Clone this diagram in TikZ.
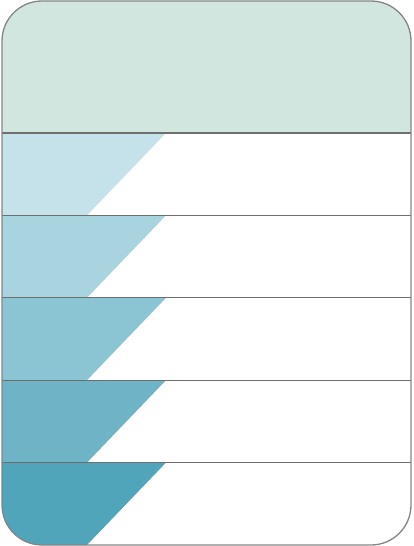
\documentclass[tikz,border=0pt]{standalone}
\usepackage{tikz}

\definecolor{headfill}{HTML}{D1E6DF}
\definecolor{rowA}{HTML}{C5E2EA}
\definecolor{rowB}{HTML}{A8D4DF}
\definecolor{rowC}{HTML}{8BC4D2}
\definecolor{rowD}{HTML}{6EB4C6}
\definecolor{rowE}{HTML}{51A5BA}
\definecolor{linegray}{HTML}{6E6E6E}
\definecolor{framegray}{HTML}{858585}

\begin{document}
\begin{tikzpicture}[
  x=1pt, y=-1pt,
  frame/.style={draw=framegray, line width=1.3pt, rounded corners=40pt},
  rowline/.style={draw=linegray, line width=1.2pt}
]
\useasboundingbox (0,0) rectangle (413,546);

\begin{scope}
\clip[rounded corners=40pt] (2,1) rectangle (411,545);
\fill[headfill] (0,0) rectangle (413,133);
\foreach \c [count=\i] in {rowA,rowB,rowC,rowD,rowE} {
  \pgfmathsetmacro\rowtop{133+82.4*(\i-1)}
  \fill[\c] (0,\rowtop) -- (166,\rowtop) -- (87,\rowtop+82.4) -- (0,\rowtop+82.4) -- cycle;
}
\end{scope}

% row separators
\foreach \i in {0,...,4}
  \draw[rowline] (2,133+82.4*\i) -- (411,133+82.4*\i);

\draw[frame] (2,1) rectangle (411,545);
\end{tikzpicture}
\end{document}
